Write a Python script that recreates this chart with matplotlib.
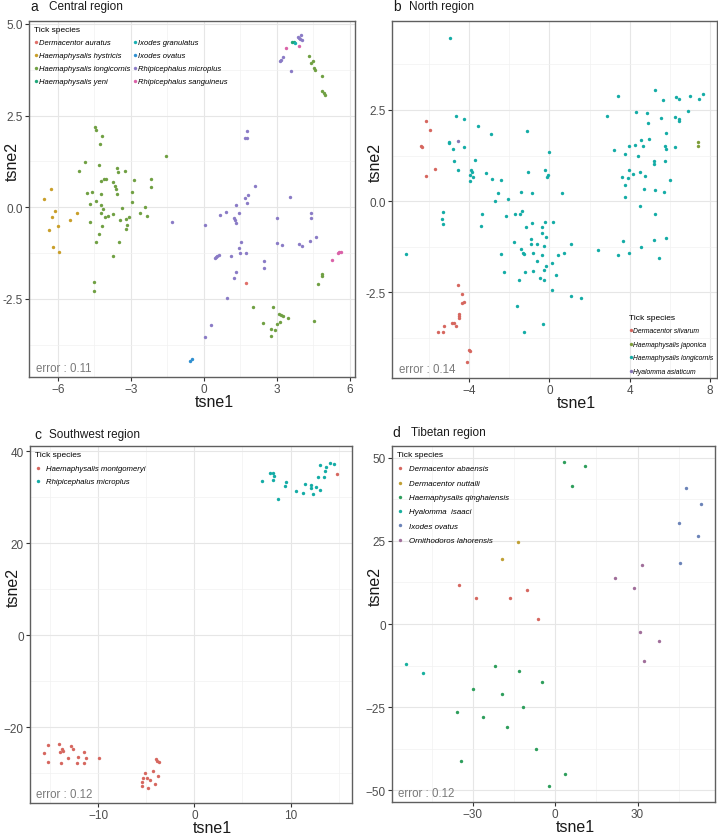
import matplotlib
matplotlib.use('Agg')
import matplotlib.pyplot as plt
from matplotlib.ticker import FixedLocator, FormatStrFormatter

plt.rcParams['font.family'] = ['Liberation Sans', 'DejaVu Sans']

# ------- DATA: a Central region ------- #
a_auratus_x = [1.73]
a_auratus_y = [-2.06]
a_hystricis_x = [-6.58, -6.27, -6.11, -6.23, -6.34, -5.97, -6.18, -5.95, -5.48, -5.21]
a_hystricis_y = [0.23, 0.49, -0.11, -0.27, -0.62, -0.51, -1.09, -1.21, -0.34, -0.17]
a_longicornis_x = [-4.45, -4.44, -4.16, -4.27, -4.86, -5.11, -4.30, -3.58, -3.52, -3.23,
                   -1.53, -4.21, -4.08, -4.01, -3.71, -3.63, -2.86, -2.15, -4.78, -4.58,
                   -4.42, -4.23, -3.59, -3.55, -2.95, -2.16, -4.66, -4.21, -4.12, -2.96,
                   -2.41, -3.34, -4.21, -4.07, -3.93, -3.71, -3.45, -3.18, -3.07, -2.63,
                   -2.33, -4.68, -4.18, -3.14, -3.18, -4.32, -4.42, -3.49, -3.71, -4.51,
                   -4.49,
                   4.33, 4.40, 4.48, 4.55, 4.59, 4.86, 4.86, 4.95, 4.99,
                   2.04, 2.85, 2.45, 3.08, 3.16, 3.26, 3.47, 3.03, 3.15, 2.78,
                   2.93, 2.78, 4.53, 4.71, 4.86, 4.88]
a_longicornis_y = [2.19, 2.11, 1.93, 1.73, 1.24, 1.00, 1.14, 1.06, 0.95, 0.99,
                   1.39, 0.72, 0.76, 0.76, 0.68, 0.59, 0.75, 0.77, 0.40, 0.42,
                   0.18, 0.35, 0.49, 0.36, 0.41, 0.56, 0.09, 0.07, -0.04, 0.15,
                   0.00, -0.02, -0.17, -0.26, -0.23, -0.18, -0.34, -0.32, -0.27, -0.17,
                   -0.23, -0.41, -0.50, -0.49, -0.59, -0.72, -0.94, -0.95, -1.33, -2.04,
                   -2.28,
                   4.13, 3.94, 3.98, 3.81, 3.75, 3.59, 3.18, 3.12, 3.06,
                   -2.71, -2.73, -3.15, -2.92, -2.93, -2.96, -3.03, -3.19, -3.14, -3.33,
                   -3.35, -3.50, -3.09, -2.10, -1.83, -1.88]
a_yeni_x = [3.63, 3.70]
a_yeni_y = [4.52, 4.50]
a_granulatus_x = [3.75]
a_granulatus_y = [4.47]
a_ovatus_x = [-0.55, -0.49]
a_ovatus_y = [-4.20, -4.13]
a_microplus_x = [3.86, 3.92, 4.01, 3.95, 4.04, 3.14, 3.19, 3.27, 3.60,
                 1.77, 1.71, 1.79, 2.12, 1.70, 1.84, 1.77, 1.34, 0.68, 0.93,
                 1.45, 1.26, 1.29, 1.33, 0.04, -1.32, 3.55, 3.03, 4.42, 4.42,
                 4.63, 4.36, 3.90, 4.05, 3.03, 3.21, 1.55, 1.44, 1.51, 1.73,
                 1.14, 0.47, 0.52, 0.56, 0.62, 2.47, 2.47, 1.34, 1.26, 0.97,
                 0.32, 0.05]
a_microplus_y = [4.65, 4.61, 4.71, 4.58, 4.57, 4.00, 4.03, 4.10, 3.73,
                 2.08, 1.88, 1.89, 0.59, 0.26, 0.33, 0.11, 0.05, -0.20, -0.13,
                 -0.17, -0.30, -0.36, -0.43, -0.48, -0.41, 0.28, -0.28, -0.16, -0.28,
                 -0.82, -0.92, -1.01, -1.05, -0.98, -1.04, -0.94, -1.11, -1.26, -1.26,
                 -1.33, -1.39, -1.37, -1.34, -1.31, -1.47, -1.66, -1.76, -1.94, -2.48,
                 -3.20, -3.53]
a_sanguineus_x = [3.37, 3.90, 5.29, 5.52, 5.58, 5.63]
a_sanguineus_y = [4.34, 4.39, -1.44, -1.25, -1.22, -1.23]

# ------- DATA: b North region ------- #
b_silvarum_x = [-6.15, -5.95, -6.38, -6.32, -5.70, -6.15, -4.53, -4.33, -4.34, -4.23,
                -4.49, -4.51, -4.49, -4.84, -4.76, -4.64, -5.24, -5.56, -5.27, -3.98,
                -3.93, -4.10]
b_silvarum_y = [2.21, 1.94, 1.50, 1.49, 0.89, 0.68, -2.31, -2.56, -2.78, -2.76,
                -3.09, -3.15, -3.21, -3.35, -3.34, -3.42, -3.43, -3.58, -3.59, -4.08,
                -4.12, -4.41]
b_japonica_x = [7.40, 7.40]
b_japonica_y = [1.63, 1.51]
b_longicornis_x = [-4.93, -4.66, -4.23, -3.57, -2.90, -1.11, -5.01, -5.01, -4.81, -4.23,
                   -4.74, -4.56, -3.68, -3.88, -3.86, -3.96, -3.78, -3.95, -3.15, -2.87,
                   -2.42, -0.03, -1.04, -0.23, -0.08, -0.10, -2.54, -1.43, -0.88, 0.63,
                   -2.72, -2.07, -5.29, -5.34, -5.27, -3.33, -3.42, -2.17, -1.72, -1.44,
                   -1.34, -1.18, -0.88, -0.22, 0.17, -0.36, -0.38, -0.18, -0.93, -0.60,
                   -0.90, -1.74, -1.39, -1.29, -1.28, -0.28, -0.38, -0.83, 0.12, 0.43,
                   0.75, 1.06, -0.61, -0.18, -0.27, -0.46, -0.27, 0.35, -0.83, -1.19,
                   -1.53, -2.27, -2.40, 0.13, 1.08, 1.59, -1.61, -0.30, -1.28, -7.11,
                   3.42, 5.24, 5.64, 6.29, 6.47, 6.98, 7.43, 7.65, 6.90, 2.87,
                   4.30, 4.86, 5.54, 6.27, 6.43, 6.43, 4.89, 5.82, 4.96, 4.56,
                   4.26, 3.96, 3.20, 3.78, 4.39, 4.66, 5.77, 5.79, 6.27, 5.19,
                   5.19, 5.77, 3.98, 3.60, 3.91, 4.16, 4.53, 4.74, 3.75, 5.99,
                   3.75, 4.69, 5.27, 5.70, 4.51, 5.26, 3.65, 3.40, 3.95, 4.56,
                   5.22, 5.79, 5.46, 2.44]
b_longicornis_y = [4.47, 2.33, 2.26, 2.07, 1.84, 1.93, 1.63, 1.59, 1.44, 1.49,
                   1.09, 0.86, 1.14, 0.86, 0.81, 0.71, 0.67, 0.54, 0.77, 0.61,
                   0.59, 1.35, 0.80, 0.86, 0.71, 0.67, 0.23, 0.26, 0.21, 0.22,
                   0.01, 0.05, -0.31, -0.50, -0.63, -0.34, -0.69, -0.41, -0.36, -0.36,
                   -0.26, -0.72, -0.60, -0.58, -0.56, -0.71, -0.86, -0.99, -1.03, -1.17,
                   -1.17, -1.11, -1.30, -1.41, -1.44, -1.24, -1.49, -1.43, -1.71, -1.49,
                   -1.43, -1.17, -1.63, -1.77, -1.90, -2.10, -2.16, -2.03, -1.91, -1.95,
                   -2.15, -1.95, -1.44, -2.44, -2.60, -2.66, -2.88, -3.37, -3.59, -1.46,
                   2.88, 3.05, 2.77, 2.86, 2.80, 2.87, 2.79, 2.93, 2.48, 2.34,
                   2.45, 2.41, 2.28, 2.30, 2.26, 2.20, 2.14, 1.87, 1.71, 1.68,
                   1.53, 1.52, 1.41, 1.30, 1.24, 1.51, 1.50, 1.43, 1.48, 1.09,
                   1.02, 1.10, 0.85, 0.65, 0.64, 0.74, 0.80, 0.69, 0.44, 0.59,
                   0.11, 0.32, 0.31, 0.25, -0.14, -0.36, -1.09, -1.47, -1.43, -1.26,
                   -1.07, -1.00, -1.57, -1.35]
b_asiaticum_x = [-4.53]
b_asiaticum_y = [1.64]

# ------- DATA: c Southwest region ------- #
c_montgomeryi_x = [14.87, -15.18, -14.04, -15.67, -15.18, -13.86, -14.00, -13.73, -13.66, -12.86,
                   -12.65, -13.10, -12.06, -12.20, -11.51, -11.51, -11.23, -9.88,
                   -3.95, -3.85, -3.64, -4.26, -5.13, -3.78, -5.37, -4.89, -4.64, -5.41,
                   -4.09, -5.41, -4.82]
c_montgomeryi_y = [35.05, -23.80, -23.73, -25.62, -27.58, -27.72, -25.40, -24.67, -25.11, -24.17,
                   -24.67, -26.71, -26.42, -27.87, -25.40, -27.72, -26.71, -26.71,
                   -27.00, -27.43, -27.58, -29.46, -29.90, -30.70, -30.99, -31.13, -31.57, -32.00,
                   -32.44, -32.80, -33.31]
c_microplus_x = [7.04, 7.87, 8.15, 8.28, 8.18, 9.53, 9.46, 8.73, 10.61, 11.33,
                 11.54, 12.17, 12.17, 12.34, 12.69, 13.10, 12.89, 13.52, 13.55, 13.03,
                 13.73, 14.11, 14.52]
c_microplus_y = [33.45, 35.27, 35.27, 34.54, 33.82, 33.31, 32.51, 29.68, 31.42, 30.91,
                 32.80, 32.73, 32.08, 30.77, 32.29, 31.49, 34.40, 34.40, 35.63, 36.94,
                 36.57, 37.37, 37.30]

# ------- DATA: d Tibetan region ------- #
d_abaensis_x = [-35.24, -29.04, -16.65, -10.21, -6.32]
d_abaensis_y = [11.6, 7.9, 7.9, 10.2, 1.5]
d_nuttalli_x = [-19.44, -13.49]
d_nuttalli_y = [19.4, 24.6]
d_qinghaiensis_x = [3.04, 10.69, 5.95, -22.11, -13.37, -4.86, -29.89, -19.44, -11.66, -35.97,
                    -26.49, -17.62, -6.93, -34.51, 3.65, -2.43]
d_qinghaiensis_y = [48.6, 47.6, 41.5, -12.6, -14.2, -17.3, -19.5, -21.1, -25.0, -26.5,
                    -27.9, -31.1, -37.7, -41.1, -45.1, -48.8]
d_isaaci_x = [-54.31, -48.12]
d_isaaci_y = [-11.9, -14.8]
d_ovatus_x = [47.75, 53.10, 44.96, 52.13, 45.44]
d_ovatus_y = [41.0, 36.2, 30.4, 26.4, 18.2]
d_lahorensis_x = [31.47, 21.87, 28.68, 30.98, 37.91, 32.32]
d_lahorensis_y = [17.8, 13.9, 10.9, -2.3, -5.2, -11.0]

border_color = '#5f5f5f'
text_grey = '#4d4d4d'


def style_axes(ax, xticks, yticks, xlim, ylim, yfmt=None):
    ax.set_xlim(xlim)
    ax.set_ylim(ylim)
    ax.xaxis.set_major_locator(FixedLocator(xticks))
    ax.yaxis.set_major_locator(FixedLocator(yticks))
    # minor grid half way between the major breaks
    dx = xticks[1] - xticks[0]
    dy = yticks[1] - yticks[0]
    xminor = [xticks[0] - dx / 2] + [t + dx / 2 for t in xticks]
    yminor = [yticks[0] - dy / 2] + [t + dy / 2 for t in yticks]
    ax.xaxis.set_minor_locator(FixedLocator(xminor))
    ax.yaxis.set_minor_locator(FixedLocator(yminor))
    if yfmt:
        ax.yaxis.set_major_formatter(FormatStrFormatter(yfmt))
    ax.grid(which='major', color='#e6e6e6', lw=0.8, zorder=0)
    ax.grid(which='minor', color='#f1f1f1', lw=0.5, zorder=0)
    ax.set_axisbelow(True)
    for spine in ax.spines.values():
        spine.set_color(border_color)
        spine.set_linewidth(1.0)
    ax.tick_params(which='major', labelsize=8.5, labelcolor=text_grey,
                   color='#333333', length=3, width=0.8, pad=1.5)
    ax.tick_params(which='minor', length=0)
    ax.set_xlabel('tsne1', fontsize=11.5, color='#1a1a1a')
    ax.set_ylabel('tsne2', fontsize=11.5, color='#1a1a1a')
    ax.xaxis.set_label_coords(0.567, -0.047)
    ax.yaxis.set_label_coords(-0.028, 0.607)


def dots(ax, x, y, color, label):
    ax.scatter(x, y, s=6, color=color, lw=0, label=label, zorder=3)


def add_error(ax, txt):
    ax.text(0.02, 0.008, txt, transform=ax.transAxes, ha='left', va='bottom',
            fontsize=8.3, color='#7a7a7a')


fig = plt.figure(figsize=(7.18, 8.37), dpi=100)
fig.set_facecolor('white')

ax_a = fig.add_axes([0.0404, 0.5484, 0.454, 0.4253])
ax_b = fig.add_axes([0.546, 0.5472, 0.4526, 0.4265])
ax_c = fig.add_axes([0.0418, 0.0394, 0.4485, 0.4265])
ax_d = fig.add_axes([0.546, 0.0406, 0.45, 0.4253])

# ------- PANEL A ------- #
dots(ax_a, a_auratus_x, a_auratus_y, '#e0706a', 'Dermacentor auratus')
dots(ax_a, a_hystricis_x, a_hystricis_y, '#c99f2a', 'Haemaphysalis hystricis')
dots(ax_a, a_longicornis_x, a_longicornis_y, '#70a043', 'Haemaphysalis longicornis')
dots(ax_a, a_yeni_x, a_yeni_y, '#20a77a', 'Haemaphysalis yeni')
dots(ax_a, a_granulatus_x, a_granulatus_y, '#18b0b2', 'Ixodes granulatus')
dots(ax_a, a_ovatus_x, a_ovatus_y, '#2f8fd0', 'Ixodes ovatus')
dots(ax_a, a_microplus_x, a_microplus_y, '#8a7bc6', 'Rhipicephalus microplus')
dots(ax_a, a_sanguineus_x, a_sanguineus_y, '#da62a8', 'Rhipicephalus sanguineus')
style_axes(ax_a, [-6, -3, 0, 3, 6], [-2.5, 0, 2.5, 5.0], (-7.18, 6.22), (-4.63, 5.08), '%.1f')
ax_a.legend(title='Tick species', loc='upper left', bbox_to_anchor=(0.0, 1.0),
            frameon=False, ncol=2, prop={'style': 'italic', 'size': 5.5},
            title_fontsize=6, handlelength=0.5, handletextpad=0.15,
            labelspacing=0.75, columnspacing=0.3, borderaxespad=0.25,
            alignment='left')
add_error(ax_a, 'error : 0.11')

# ------- PANEL B ------- #
dots(ax_b, b_silvarum_x, b_silvarum_y, '#d6675f', 'Dermacentor silvarum')
dots(ax_b, b_japonica_x, b_japonica_y, '#7e9d3a', 'Haemaphysalis japonica')
dots(ax_b, b_longicornis_x, b_longicornis_y, '#14aca6', 'Haemaphysalis longicornis')
dots(ax_b, b_asiaticum_x, b_asiaticum_y, '#8677b5', 'Hyalomma asiaticum')
style_axes(ax_b, [-4, 0, 4, 8], [-2.5, 0, 2.5], (-7.83, 8.34), (-4.85, 4.94), '%.1f')
ax_b.legend(title='Tick species', loc='lower right', bbox_to_anchor=(1.0, 0.0),
            frameon=False, prop={'style': 'italic', 'size': 4.9},
            title_fontsize=6, handlelength=0.5, handletextpad=0.15,
            labelspacing=0.95, borderaxespad=0.1, alignment='left')
add_error(ax_b, 'error : 0.14')

# ------- PANEL C ------- #
dots(ax_c, c_montgomeryi_x, c_montgomeryi_y, '#d6675f', 'Haemaphysalis montgomeryi')
dots(ax_c, c_microplus_x, c_microplus_y, '#14aca6', 'Rhipicephalus microplus')
style_axes(ax_c, [-10, 0, 10], [-20, 0, 20, 40], (-17.1, 16.4), (-36.5, 41.1))
ax_c.legend(title='Tick species', loc='upper left', bbox_to_anchor=(0.0, 1.0),
            frameon=False, prop={'style': 'italic', 'size': 5.6},
            title_fontsize=6, handlelength=0.6, handletextpad=0.7,
            labelspacing=0.75, borderaxespad=0.3, alignment='left')
add_error(ax_c, 'error : 0.12')

# ------- PANEL D ------- #
dots(ax_d, d_abaensis_x, d_abaensis_y, '#d6675f', 'Dermacentor abaensis')
dots(ax_d, d_nuttalli_x, d_nuttalli_y, '#c0a035', 'Dermacentor nuttalli')
dots(ax_d, d_qinghaiensis_x, d_qinghaiensis_y, '#2e9e5c', 'Haemaphysalis qinghaiensis')
dots(ax_d, d_isaaci_x, d_isaaci_y, '#18b09e', 'Hyalomma  isaaci')
dots(ax_d, d_ovatus_x, d_ovatus_y, '#6b83b8', 'Ixodes ovatus')
dots(ax_d, d_lahorensis_x, d_lahorensis_y, '#a06e9a', 'Ornithodoros lahorensis')
style_axes(ax_d, [-30, 0, 30], [-50, -25, 0, 25, 50], (-59.5, 58.3), (-53.5, 53.5))
ax_d.legend(title='Tick species', loc='upper left', bbox_to_anchor=(0.0, 1.0),
            frameon=False, prop={'style': 'italic', 'size': 5.7},
            title_fontsize=6, handlelength=0.6, handletextpad=0.9,
            labelspacing=0.85, borderaxespad=0.25, alignment='left')
add_error(ax_d, 'error : 0.12')

# ------- PANEL TITLES ------- #
for lx, tx, y, letter, title in [(0.042, 0.068, 0.9915, 'a', 'Central region'),
                                 (0.547, 0.569, 0.9915, 'b', 'North region'),
                                 (0.048, 0.068, 0.480, 'c', 'Southwest region'),
                                 (0.547, 0.573, 0.483, 'd', 'Tibetan region')]:
    fig.text(lx, y, letter, fontsize=10, color='#1a1a1a', ha='left', va='center')
    fig.text(tx, y, title, fontsize=8.5, color='#1a1a1a', ha='left', va='center')

plt.savefig('out.png', dpi=100)
